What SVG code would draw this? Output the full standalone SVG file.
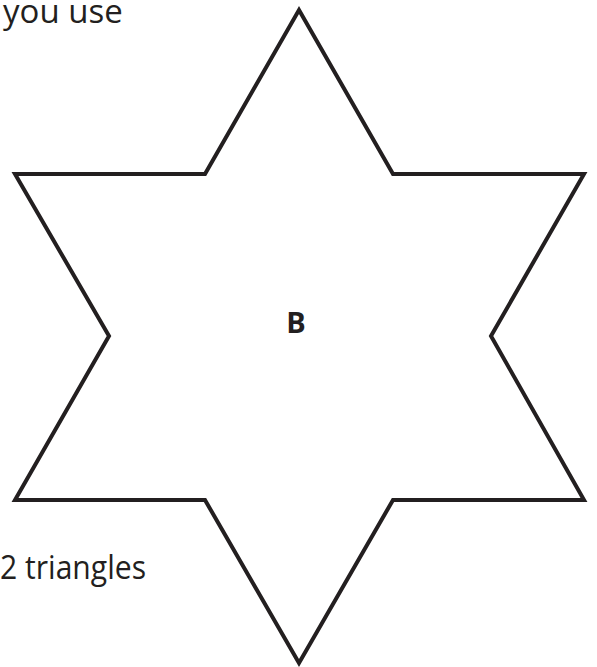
<svg xmlns="http://www.w3.org/2000/svg" width="597" height="667" viewBox="0 0 597 667">
<style>
.t{font-family:"Open Sans","Liberation Sans",sans-serif;font-size:33px;fill:#231f20}
.b{font-weight:bold;text-anchor:middle;font-size:29px}
.star{fill:#fff;stroke:#231f20;stroke-width:4;stroke-linejoin:miter}
</style>
<rect width="597" height="667" fill="#fff"/>
<g id="star">
<polygon class="star" points="299,10 393,174 584,174 491,336 584,500 393,500 299,663 205,500 15,500 109,336 15,174 205,174"/>
<text class="t b" x="296" y="333">B</text>
</g>
<g id="labels">
<text class="t" x="3" y="23">you use</text>
<text class="t" x="0" y="579" textLength="146" lengthAdjust="spacingAndGlyphs">2 triangles</text>
</g>
<g id="connectors"></g>
</svg>
